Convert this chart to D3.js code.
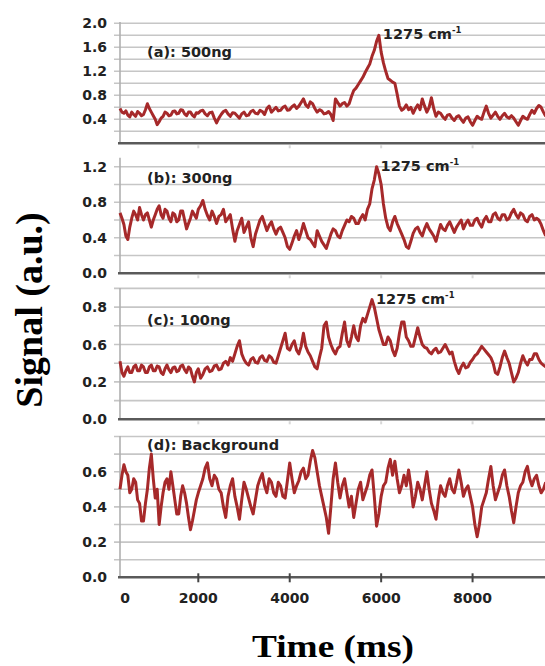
<!DOCTYPE html>
<html>
<head>
<meta charset="utf-8">
<script src="https://cdn.jsdelivr.net/npm/d3@7"></script>
<style>
  body { margin: 0; background: #fff; }
  svg { display: block; }
</style>
</head>
<body>
<div id="chart"></div>
<script>
// sampling of the time axis (ms)
var timeStep = 50;
var times = d3.range(0, 9601, timeStep);

// signals, one value per 50 ms
var sig500 = [0.58,0.52,0.50,0.54,0.47,0.44,0.52,0.48,0.45,0.53,
  0.50,0.46,0.48,0.56,0.66,0.58,0.52,0.46,0.40,0.31,
  0.36,0.42,0.45,0.52,0.50,0.46,0.47,0.53,0.54,0.49,
  0.50,0.56,0.55,0.49,0.46,0.52,0.52,0.47,0.44,0.51,
  0.50,0.54,0.55,0.49,0.46,0.51,0.52,0.42,0.34,0.42,
  0.48,0.53,0.55,0.49,0.45,0.51,0.50,0.46,0.42,0.49,
  0.52,0.46,0.47,0.53,0.55,0.50,0.49,0.55,0.53,0.48,
  0.58,0.62,0.52,0.56,0.60,0.54,0.55,0.60,0.62,0.55,
  0.56,0.61,0.64,0.58,0.62,0.68,0.74,0.64,0.60,0.69,
  0.66,0.58,0.52,0.56,0.54,0.49,0.50,0.53,0.48,0.38,
  0.74,0.68,0.62,0.66,0.68,0.62,0.66,0.78,0.88,0.92,
  0.98,1.04,1.10,1.18,1.25,1.32,1.45,1.55,1.70,1.80,
  1.52,1.34,1.20,1.08,1.05,1.02,1.00,0.82,0.62,0.55,
  0.58,0.64,0.56,0.60,0.50,0.58,0.64,0.56,0.74,0.62,
  0.52,0.60,0.76,0.58,0.45,0.52,0.50,0.44,0.40,0.47,
  0.48,0.42,0.38,0.44,0.46,0.40,0.35,0.42,0.44,0.36,
  0.30,0.38,0.45,0.42,0.40,0.52,0.62,0.50,0.42,0.47,
  0.52,0.45,0.40,0.46,0.50,0.44,0.42,0.46,0.42,0.36,
  0.30,0.38,0.45,0.42,0.40,0.48,0.55,0.50,0.58,0.63,
  0.60,0.52,0.45];

var sig300 = [0.68,0.62,0.55,0.42,0.38,0.52,0.62,0.70,0.66,0.60,
  0.74,0.66,0.60,0.66,0.68,0.60,0.52,0.60,0.66,0.72,
  0.76,0.66,0.62,0.72,0.70,0.62,0.58,0.68,0.66,0.58,
  0.60,0.70,0.70,0.60,0.50,0.56,0.62,0.70,0.66,0.62,
  0.72,0.76,0.82,0.72,0.65,0.60,0.70,0.64,0.56,0.64,
  0.66,0.72,0.58,0.62,0.66,0.50,0.36,0.48,0.55,0.62,
  0.46,0.52,0.58,0.40,0.30,0.44,0.52,0.60,0.64,0.56,
  0.48,0.54,0.58,0.50,0.44,0.50,0.52,0.46,0.40,0.30,
  0.27,0.34,0.42,0.48,0.38,0.46,0.56,0.48,0.40,0.38,
  0.34,0.30,0.48,0.42,0.36,0.32,0.28,0.36,0.44,0.50,
  0.48,0.42,0.40,0.48,0.54,0.60,0.58,0.64,0.62,0.56,
  0.56,0.62,0.66,0.60,0.72,0.78,0.95,1.05,1.20,1.12,
  1.00,0.78,0.62,0.52,0.48,0.58,0.64,0.56,0.50,0.44,
  0.38,0.30,0.28,0.36,0.45,0.50,0.52,0.46,0.42,0.50,
  0.56,0.50,0.46,0.42,0.36,0.46,0.55,0.50,0.48,0.54,
  0.58,0.52,0.46,0.52,0.56,0.60,0.50,0.56,0.60,0.54,
  0.54,0.60,0.62,0.56,0.52,0.60,0.64,0.58,0.58,0.66,
  0.68,0.62,0.60,0.66,0.66,0.60,0.62,0.68,0.72,0.66,
  0.62,0.68,0.66,0.60,0.58,0.64,0.66,0.60,0.62,0.60,
  0.55,0.48,0.42];

var sig100 = [0.42,0.30,0.26,0.32,0.36,0.30,0.30,0.36,0.38,0.32,
  0.32,0.38,0.36,0.30,0.30,0.36,0.38,0.32,0.32,0.37,
  0.36,0.30,0.28,0.34,0.38,0.33,0.30,0.35,0.36,0.31,
  0.32,0.37,0.38,0.33,0.30,0.36,0.34,0.26,0.20,0.30,
  0.34,0.24,0.28,0.34,0.36,0.31,0.32,0.37,0.38,0.33,
  0.34,0.40,0.42,0.38,0.46,0.42,0.50,0.58,0.62,0.50,
  0.44,0.40,0.38,0.44,0.46,0.41,0.40,0.46,0.48,0.43,
  0.42,0.48,0.46,0.41,0.40,0.48,0.56,0.62,0.66,0.56,
  0.54,0.60,0.62,0.54,0.50,0.58,0.66,0.58,0.52,0.48,
  0.42,0.36,0.34,0.46,0.56,0.70,0.72,0.64,0.60,0.54,
  0.50,0.56,0.58,0.66,0.72,0.62,0.58,0.64,0.70,0.64,
  0.62,0.70,0.74,0.72,0.76,0.80,0.84,0.80,0.74,0.68,
  0.64,0.60,0.60,0.64,0.62,0.54,0.48,0.56,0.66,0.72,
  0.72,0.64,0.62,0.58,0.58,0.64,0.69,0.64,0.60,0.57,
  0.56,0.52,0.50,0.54,0.56,0.51,0.52,0.56,0.60,0.55,
  0.50,0.52,0.42,0.34,0.29,0.36,0.40,0.35,0.36,0.41,
  0.44,0.48,0.50,0.54,0.58,0.55,0.52,0.49,0.46,0.40,
  0.30,0.28,0.36,0.46,0.53,0.46,0.40,0.30,0.20,0.24,
  0.30,0.40,0.48,0.42,0.38,0.44,0.44,0.50,0.50,0.44,
  0.40,0.38,0.36];

var sigBg = [0.50,0.58,0.64,0.60,0.58,0.48,0.50,0.56,0.54,0.44,
  0.42,0.32,0.32,0.42,0.50,0.62,0.70,0.56,0.45,0.50,
  0.30,0.40,0.48,0.54,0.56,0.50,0.60,0.52,0.44,0.36,
  0.36,0.46,0.52,0.48,0.42,0.34,0.27,0.32,0.38,0.44,
  0.48,0.52,0.56,0.62,0.65,0.56,0.52,0.58,0.56,0.50,
  0.48,0.40,0.34,0.46,0.52,0.56,0.46,0.40,0.33,0.44,
  0.54,0.50,0.45,0.40,0.36,0.44,0.52,0.56,0.59,0.52,
  0.48,0.56,0.54,0.48,0.46,0.54,0.52,0.46,0.45,0.55,
  0.65,0.56,0.48,0.52,0.55,0.60,0.62,0.56,0.58,0.66,
  0.72,0.68,0.60,0.52,0.46,0.40,0.34,0.25,0.40,0.56,
  0.65,0.54,0.45,0.52,0.56,0.48,0.40,0.46,0.34,0.42,
  0.50,0.54,0.44,0.48,0.52,0.58,0.61,0.46,0.29,0.36,
  0.46,0.52,0.54,0.62,0.67,0.58,0.66,0.56,0.48,0.52,
  0.58,0.52,0.61,0.52,0.40,0.46,0.54,0.50,0.44,0.52,
  0.60,0.50,0.42,0.38,0.33,0.44,0.52,0.48,0.46,0.52,
  0.56,0.50,0.48,0.54,0.61,0.54,0.46,0.50,0.52,0.46,
  0.40,0.30,0.23,0.30,0.40,0.44,0.48,0.56,0.63,0.52,
  0.44,0.48,0.52,0.58,0.61,0.52,0.46,0.38,0.31,0.40,
  0.48,0.52,0.54,0.60,0.63,0.56,0.52,0.56,0.58,0.52,
  0.48,0.50,0.54];

var panelLabels = ["(a): 500ng", "(b): 300ng", "(c): 100ng", "(d): Background"];
var peakText = "1275 cm";
var peakSup = "-1";
var xTickValues = [0, 2000, 4000, 6000, 8000];
var yTicksA = [0.4, 0.8, 1.2, 1.6, 2.0];
var yTicksB = [0.0, 0.4, 0.8, 1.2];
var yTicksC = [0.0, 0.2, 0.6, 0.8];
var yTicksD = [0.0, 0.2, 0.4, 0.6];
var gridA = [0.2, 0.4, 0.6, 0.8, 1.0, 1.2, 1.4, 1.6, 1.8, 2.0];
var gridB = [0.2, 0.4, 0.6, 0.8, 1.0, 1.2];
var gridC = [0.1, 0.2, 0.4, 0.6, 0.7, 0.8, 0.9];
var gridD = [0.1, 0.2, 0.3, 0.4, 0.5, 0.6, 0.7, 0.8];

var W = 545, H = 666;
var left = 120;
var lineColor = "#a6292a";

var svg = d3.select("#chart").append("svg")
  .attr("width", W).attr("height", H);

svg.append("rect").attr("width", W).attr("height", H).attr("fill", "#fff");

// the time axis is not evenly spaced in the figure: the 0 label sits close to 2000
var x = d3.scaleLinear()
  .domain([0, 2000, 10000])
  .range([left, 198.3, 564]);

var panels = [
  { values: sig500, label: panelLabels[0], ticks: yTicksA, grid: gridA,
    y: d3.scaleLinear().domain([0, 2.0]).range([143.3, 23.3]), top: 22, labelY: 57, peak: true },
  { values: sig300, label: panelLabels[1], ticks: yTicksB, grid: gridB,
    y: d3.scaleLinear().domain([0, 1.3]).range([273.3, 157.8]), top: 157.8, labelY: 183, peak: true },
  { values: sig100, label: panelLabels[2], ticks: yTicksC, grid: gridC,
    y: d3.scaleLinear().domain([0, 0.2, 0.6, 0.8, 0.9]).range([419.3, 381.9, 344.5, 307.1, 288.4]), top: 288, labelY: 325, peak: true },
  { values: sigBg, label: panelLabels[3], ticks: yTicksD, grid: gridD,
    y: d3.scaleLinear().domain([0, 0.8]).range([577.3, 436.5]), top: 436, labelY: 450, peak: false }
];

var fmt = d3.format(".1f");

panels.forEach(function (p, i) {
  var g = svg.append("g");
  var y0 = p.y(0);

  // gridlines (extend a little left of the axis like the original)
  g.selectAll("line.grid")
    .data(p.grid)
    .enter().append("line")
    .attr("x1", left - 6).attr("x2", W)
    .attr("y1", function (d) { return p.y(d); })
    .attr("y2", function (d) { return p.y(d); })
    .attr("stroke", "#c6c6c6")
    .attr("stroke-width", 1.6);

  // left axis line
  g.append("line")
    .attr("x1", left).attr("x2", left)
    .attr("y1", p.top).attr("y2", y0)
    .attr("stroke", "#b0b0b0")
    .attr("stroke-width", 1.6);

  // y tick labels
  g.selectAll("text.ytick")
    .data(p.ticks)
    .enter().append("text")
    .attr("x", 107)
    .attr("y", function (d) { return p.y(d); })
    .attr("dy", "0.36em")
    .attr("text-anchor", "end")
    .attr("font-family", "DejaVu Sans, sans-serif")
    .attr("font-weight", "bold")
    .attr("font-size", 14)
    .attr("fill", "#222")
    .text(fmt);

  // signal trace
  var line = d3.line()
    .x(function (d, j) { return x(times[j]); })
    .y(function (d) { return p.y(d); });

  g.append("path")
    .datum(p.values)
    .attr("d", line)
    .attr("fill", "none")
    .attr("stroke", lineColor)
    .attr("stroke-width", 3)
    .attr("stroke-linejoin", "round");

  // bottom axis line
  g.append("line")
    .attr("x1", left - 2).attr("x2", W)
    .attr("y1", y0).attr("y2", y0)
    .attr("stroke", "#5a5a5a")
    .attr("stroke-width", 2.6);

  // panel label
  g.append("text")
    .attr("x", 147)
    .attr("y", p.labelY)
    .attr("font-family", "DejaVu Sans, sans-serif")
    .attr("font-weight", "bold")
    .attr("font-size", 14.5)
    .attr("fill", "#222")
    .text(p.label);

  // peak annotation next to the maximum of the trace
  if (p.peak) {
    var imax = d3.maxIndex(p.values);
    var t = g.append("text")
      .attr("x", x(times[imax]) + 4)
      .attr("y", p.y(p.values[imax]) + 4)
      .attr("font-family", "DejaVu Sans, sans-serif")
      .attr("font-weight", "bold")
      .attr("font-size", 14.5)
      .attr("fill", "#222");
    t.append("tspan").text(peakText);
    t.append("tspan")
      .attr("font-size", 8.5)
      .attr("dy", -6)
      .text(peakSup);
  }

  // x ticks: faint in the upper panels, dark on the bottom one
  var last = i === panels.length - 1;
  g.selectAll("line.xtick")
    .data(xTickValues.slice(1))
    .enter().append("line")
    .attr("x1", function (d) { return x(d); })
    .attr("x2", function (d) { return x(d); })
    .attr("y1", last ? y0 - 4 : y0 + 2)
    .attr("y2", y0 + 5)
    .attr("stroke", last ? "#444" : "#d8d8d8")
    .attr("stroke-width", 2);
});

// x tick labels under the bottom panel
svg.selectAll("text.xtick")
  .data(xTickValues)
  .enter().append("text")
  .attr("x", function (d) { return d === 0 ? x(d) + 5 : x(d); })
  .attr("y", 603)
  .attr("text-anchor", "middle")
  .attr("font-family", "DejaVu Sans, sans-serif")
  .attr("font-weight", "bold")
  .attr("font-size", 14)
  .attr("fill", "#222")
  .text(function (d) { return d; });

// axis titles
svg.append("text")
  .attr("transform", "translate(42,310) rotate(-90)")
  .attr("text-anchor", "middle")
  .attr("font-family", "Liberation Serif, Times New Roman, serif")
  .attr("font-weight", "bold")
  .attr("font-size", 38)
  .attr("fill", "#000")
  .text("Signal (a.u.)");

svg.append("text")
  .attr("x", 252)
  .attr("y", 657)
  .attr("textLength", 162)
  .attr("lengthAdjust", "spacingAndGlyphs")
  .attr("font-family", "Liberation Serif, Times New Roman, serif")
  .attr("font-weight", "bold")
  .attr("font-size", 31)
  .attr("fill", "#000")
  .text("Time (ms)");
</script>
</body>
</html>
